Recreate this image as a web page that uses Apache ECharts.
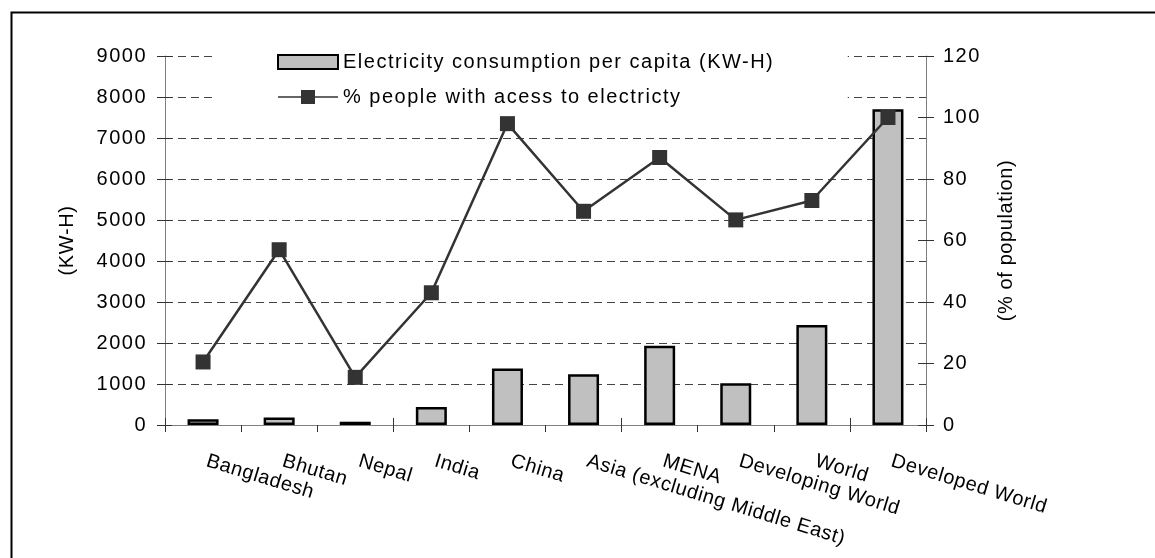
<!DOCTYPE html>
<html>
<head>
<meta charset="utf-8">
<script src="https://cdn.jsdelivr.net/npm/echarts@6/dist/echarts.min.js"></script>
<style>
html,body{margin:0;padding:0;background:#fff;}
#chart{width:1155px;height:558px;}
</style>
</head>
<body>
<div id="chart"></div>
<script>
// ---- data ----
const categories = ['Bangladesh', 'Bhutan', 'Nepal', 'India', 'China', 'Asia (excluding Middle East)', 'MENA', 'Developing World', 'World', 'Developed World'];
const consumption = [140, 180, 80, 440, 1380, 1240, 1930, 1020, 2440, 7700];
const access = [20.5, 57, 15.5, 43, 98, 69.5, 87, 66.7, 73, 100];
const leftTicks = [0, 1000, 2000, 3000, 4000, 5000, 6000, 7000, 8000, 9000];
const rightTicks = [0, 20, 40, 60, 80, 100, 120];
const barName = 'Electricity consumption per capita (KW-H)';
const lineName = '% people with acess to electricty';
const leftAxisName = '(KW-H)';
const rightAxisName = '(% of population)';

// Excel-like wider text rendering
(function () {
  var p = window.CanvasRenderingContext2D && CanvasRenderingContext2D.prototype;
  if (p && ('letterSpacing' in p)) {
    var f = p.fillText;
    p.fillText = function () {
      var t = this.getTransform();
      this.letterSpacing = Math.abs(t.b) > 0.01 ? '0.6px' : '1.5px';
      return f.apply(this, arguments);
    };
  }
})();

const FONT = "'Liberation Sans', Arial, sans-serif";
const leftMin = leftTicks[0], leftMax = leftTicks[leftTicks.length - 1], leftStep = leftTicks[1] - leftTicks[0];
const rightMin = rightTicks[0], rightMax = rightTicks[rightTicks.length - 1], rightStep = rightTicks[1] - rightTicks[0];
const plain = function (v) { return String(v); };

const chart = echarts.init(document.getElementById('chart'), null, {renderer: 'canvas'});
chart.setOption({
  animation: false,
  backgroundColor: '#fff',
  textStyle: {fontFamily: FONT, color: '#000'},
  graphic: [{
    type: 'rect', left: 9, top: 10, z: 100, silent: true,
    shape: {width: 1200, height: 600},
    style: {fill: 'none', stroke: '#000', lineWidth: 2}
  }],
  grid: {left: 165, right: 229, top: 56, bottom: 133, containLabel: false},
  legend: {
    orient: 'vertical',
    left: 213, top: 42,
    z: 1,
    backgroundColor: '#fff',
    padding: [10, 135, 10, 64],
    itemWidth: 60, itemHeight: 14,
    itemGap: 15,
    symbolKeepAspect: false,
    textStyle: {fontSize: 20, color: '#000', fontFamily: FONT, lineHeight: 20},
    data: [
      {name: barName, icon: 'rect'},
      {name: lineName, icon: 'path://M0,6.25 H23 V0 H37 V6.25 H60 V7.75 H37 V14 H23 V7.75 H0 Z'}
    ]
  },
  xAxis: [{
    type: 'category',
    data: categories,
    boundaryGap: true,
    axisLine: {lineStyle: {color: '#808080', width: 1}},
    axisTick: {show: true, length: 7, lineStyle: {color: '#333'}},
    axisLabel: {
      rotate: -17, align: 'left', verticalAlign: 'top', margin: 24,
      padding: [0, 0, 0, 7], fontSize: 20, color: '#000', interval: 0
    },
    splitLine: {show: false}
  }, {
    type: 'category',
    data: categories,
    position: 'bottom',
    boundaryGap: true,
    axisLine: {show: false},
    axisTick: {show: true, inside: true, length: 7, lineStyle: {color: '#333'}},
    axisLabel: {show: false},
    splitLine: {show: false}
  }],
  yAxis: [{
    type: 'value', position: 'left',
    min: leftMin, max: leftMax, interval: leftStep,
    name: leftAxisName, nameLocation: 'middle', nameRotate: 90, nameGap: 88,
    nameTextStyle: {fontSize: 20, color: '#000'},
    axisLine: {show: true, lineStyle: {color: '#808080', width: 1}},
    axisTick: {show: true, length: 8, lineStyle: {color: '#333'}},
    axisLabel: {fontSize: 20, color: '#000', margin: 18, formatter: plain},
    splitLine: {show: true, lineStyle: {color: '#444', type: [8, 5], width: 1}}
  }, {
    type: 'value', position: 'right',
    min: rightMin, max: rightMax, interval: rightStep,
    name: rightAxisName, nameLocation: 'middle', nameRotate: 90, nameGap: 70,
    nameTextStyle: {fontSize: 20, color: '#000'},
    axisLine: {show: true, lineStyle: {color: '#808080', width: 1}},
    axisTick: {show: true, length: 8, lineStyle: {color: '#333'}},
    axisLabel: {fontSize: 20, color: '#000', margin: 17, formatter: plain},
    splitLine: {show: false}
  }, {
    type: 'value', position: 'right',
    min: rightMin, max: rightMax, interval: rightStep,
    axisLine: {show: false},
    axisTick: {show: true, inside: true, length: 8, lineStyle: {color: '#333'}},
    axisLabel: {show: false},
    splitLine: {show: false}
  }, {
    type: 'value', position: 'left',
    min: leftMin, max: leftMax, interval: leftStep,
    axisLine: {show: false},
    axisTick: {show: true, inside: true, length: 7, lineStyle: {color: '#333'}},
    axisLabel: {show: false},
    splitLine: {show: false}
  }],
  series: [{
    name: barName,
    type: 'bar',
    xAxisIndex: 0, yAxisIndex: 0,
    data: consumption,
    barWidth: 31,
    z: 2,
    itemStyle: {color: '#c0c0c0', borderColor: '#000', borderWidth: 2.5}
  }, {
    name: lineName,
    type: 'line',
    xAxisIndex: 0, yAxisIndex: 1,
    data: access,
    z: 3,
    symbol: 'rect', symbolSize: 15,
    lineStyle: {color: '#333', width: 2.5},
    itemStyle: {color: '#333', borderWidth: 0}
  }]
});
</script>
</body>
</html>
